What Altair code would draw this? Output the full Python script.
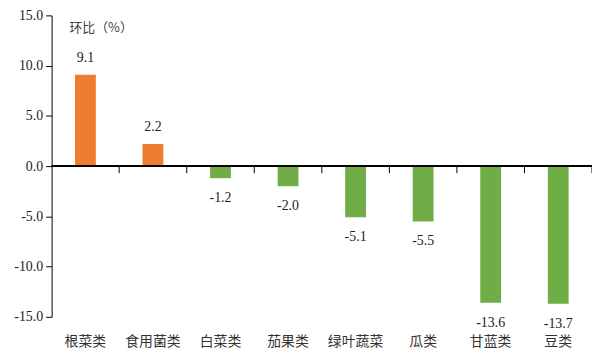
import altair as alt
import pandas as pd

categories = ["根菜类", "食用菌类", "白菜类", "茄果类", "绿叶蔬菜", "瓜类", "甘蓝类", "豆类"]
values = [9.1, 2.2, -1.2, -2.0, -5.1, -5.5, -13.6, -13.7]
y_ticks = [-15, -10, -5, 0, 5, 10, 15]

df = pd.DataFrame({"cat": categories, "val": values})
df["sign"] = ["pos" if v >= 0 else "neg" for v in values]

W, H = 545, 304
serif = "Liberation Serif"
cjk = "Noto Sans CJK SC"

x_scale = alt.Scale(paddingInner=0, paddingOuter=0)
x_enc = alt.X("cat:N", sort=categories, scale=x_scale,
              axis=alt.Axis(title=None, orient="bottom", domain=False, ticks=False,
                            labelAngle=0, labelFont=cjk, labelFontSize=14,
                            labelColor="#333333", labelPadding=18))
y_scale = alt.Scale(domain=[-15, 15], nice=False, zero=False)
y_enc = alt.Y("val:Q", scale=y_scale,
              axis=alt.Axis(title=None, values=y_ticks, format=".1f", grid=False,
                            labelExpr="replace(datum.label, '\u2212', '-')",
                            domainColor="#000000", tickColor="#000000", tickSize=6,
                            labelFont=serif, labelFontSize=14, labelColor="#222222",
                            labelPadding=3))

base = alt.Chart(df).transform_calculate(
    lab="replace(format(datum.val, '.1f'), '\u2212', '-')"
)

bars = base.mark_bar(size=21).encode(
    x=x_enc,
    y=y_enc,
    y2=alt.datum(0),
    color=alt.Color("sign:N", scale=alt.Scale(domain=["pos", "neg"], range=["#ED7D31", "#70AD47"]), legend=None),
)

zero_line = base.mark_rule(color="#000000", strokeWidth=1).encode(
    x=alt.value(0), x2=alt.value(W), y=alt.Y(datum=0)
)

ticks = base.mark_rule(color="#000000", strokeWidth=1).encode(
    x=alt.X("cat:N", sort=categories, bandPosition=1),
    y=alt.Y(datum=0),
    y2=alt.datum(-0.7),
)

pos_labels = base.transform_filter(alt.datum.val >= 0).mark_text(
    dy=-17, font=serif, fontSize=14, color="#222222", baseline="middle"
).encode(x=alt.X("cat:N", sort=categories), y="val:Q", text="lab:N")

neg_labels = base.transform_filter(alt.datum.val < 0).mark_text(
    dy=20, font=serif, fontSize=14, color="#222222", baseline="middle"
).encode(x=alt.X("cat:N", sort=categories), y="val:Q", text="lab:N")

title = alt.Chart(pd.DataFrame({"t": ["环比（%）"]})).mark_text(
    font=cjk, fontSize=13, color="#404040", align="left", baseline="middle"
).encode(x=alt.value(18), y=alt.value(13), text="t:N")

chart = alt.layer(bars, zero_line, ticks, pos_labels, neg_labels, title).properties(
    width=W, height=H,
    autosize=alt.AutoSizeParams(type="none"),
    padding={"left": 44, "top": 6, "right": 0, "bottom": 34},
).configure_view(stroke=None)

chart.save("out.html", embed_options={"renderer": "svg", "actions": False})
